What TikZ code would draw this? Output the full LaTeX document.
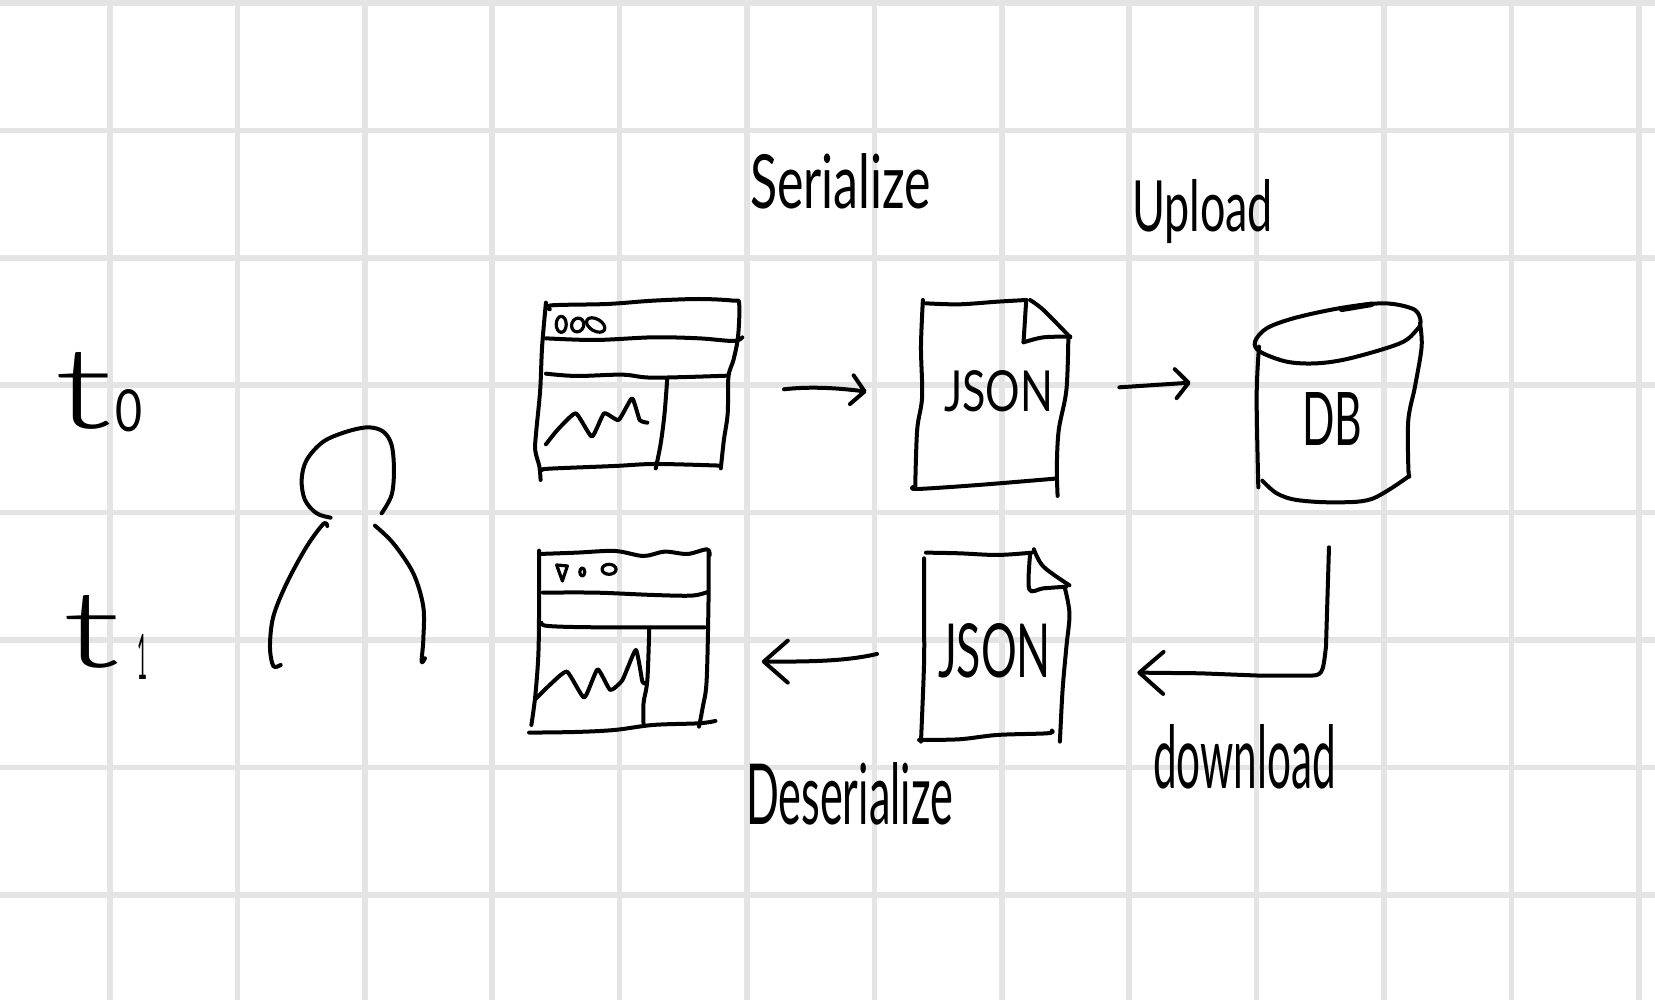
\documentclass[tikz,border=0pt]{standalone}
\usepackage{graphicx}
\usepackage{fontspec}
\setmainfont{Lato}
\newfontfamily\handlight{Lato Light}
\usetikzlibrary{arrows.meta}
\definecolor{gridc}{HTML}{E4E4E4}
\newcommand{\fitl}[3]{\resizebox{#1pt}{#2pt}{\fontsize{40pt}{40pt}\selectfont #3}}
\newcommand{\sk}[1]{\draw[ink] plot[smooth,tension=0.55] coordinates {#1};}
\newcommand{\skz}[1]{\draw[ink] plot[smooth,tension=0.3] coordinates {#1};}
\tikzset{
  ink/.style={line width=4pt,line cap=round,line join=round,draw=black},
  thinink/.style={line width=3.2pt,line cap=round,line join=round,draw=black},
  hand/.style={inner sep=0pt,outer sep=0pt,anchor=base west,text=black},
  gridline/.style={line width=5.5pt,draw=gridc},
  arrsmall/.style={ink,-{Straight Barb[length=13pt,width=29pt,round]}},
  arrbig/.style={ink,-{Straight Barb[length=24pt,width=42pt,round]}},
  zone/.style={shift={(500,280)},x=0.3827pt,y=-0.3333pt},
  ztwo/.style={shift={(1100,280)},x=0.3333pt,y=-0.3333pt},
  zthree/.style={shift={(40,330)},x=0.3333pt,y=-0.3333pt}
}
\begin{document}
\begin{tikzpicture}[x=1pt,y=-1pt]
\useasboundingbox (0,0) rectangle (1655,1000);
\fill[white] (0,0) rectangle (1655,1000);
\foreach \k in {0,...,12}{\draw[gridline] ({110+127.4*\k},0) -- ({110+127.4*\k},1000);}
\foreach \k in {0,...,7}{\draw[gridline] (0,{3+127.4*\k}) -- (1655,{3+127.4*\k});}

% windows and documents
\begin{scope}[zone]
  % upper window
  \sk{(120,68)(110,200)(105,330)(95,450)(92,510)(103,560)(106,600)}
  \sk{(130,88)(135,76)(280,72)(400,62)(520,57)(610,62)(625,72)(622,170)(610,240)(597,290)(595,400)(585,480)(577,565)}
  \sk{(120,175)(250,180)(400,172)(520,175)(610,183)(633,172)}
  \sk{(120,281)(200,288)(320,284)(400,293)(595,287)}
  \sk{(437,295)(430,400)(420,490)(407,565)}
  \sk{(110,570)(130,566)(300,558)(407,552)(577,557)}
  \skz{(120,493)(150,450)(198,400)(240,470)(272,400)(310,420)(345,355)(365,420)(385,428)}
  \draw[thinink] (160,133) ellipse [x radius=5pt,y radius=8pt];
  \draw[thinink,rotate around={-20:(203,135)}] (203,135) ellipse [x radius=6pt,y radius=7pt];
  \draw[thinink,rotate around={-30:(250,135)}] (250,135) ellipse [x radius=10pt,y radius=6pt];
  % lower window
  \sk{(102,812)(102,1000)(100,1130)(92,1250)(82,1335)}
  \sk{(103,822)(200,818)(300,813)(375,828)(430,815)(490,822)(540,808)(548,825)}
  \sk{(545,812)(545,950)(540,1200)(530,1280)(520,1340)}
  \sk{(112,938)(250,938)(400,945)(500,947)(540,937)}
  \sk{(108,1028)(125,1038)(250,1042)(535,1042)}
  \sk{(390,1045)(385,1200)(375,1270)(375,1330)}
  \sk{(76,1358)(200,1356)(300,1350)(400,1335)(520,1330)(563,1323)}
  \skz{(92,1258)(130,1215)(175,1175)(220,1253)(255,1168)(288,1230)(320,1200)(355,1110)(372,1205)(380,1210)}
  \draw[thinink] (148,855) -- (176,858) -- (163,903) -- cycle;
  \draw[thinink] (215,876) ellipse [x radius=2.5pt,y radius=4pt];
  \draw[thinink] (285,868) ellipse [x radius=7pt,y radius=5pt];
  % upper document
  \sk{(1105,60)(1100,200)(1103,350)(1090,450)(1085,620)}
  \sk{(1082,620)(1090,627)(1250,615)(1450,596)}
  \sk{(1457,648)(1455,560)(1460,450)(1480,330)(1485,175)}
  \sk{(1113,70)(1200,73)(1300,65)(1375,60)}
  \draw[ink] (1375,60) -- (1368,187);
  \sk{(1368,187)(1420,172)(1490,170)}
  \sk{(1385,60)(1420,90)(1490,172)}
  % lower document
  \sk{(1108,835)(1108,1000)(1108,1150)(1100,1385)}
  \sk{(1113,818)(1200,820)(1300,825)(1390,818)}
  \sk{(1395,808)(1420,860)(1488,916)}
  \sk{(1385,825)(1383,928)(1420,925)(1480,920)}
  \sk{(1475,920)(1488,1000)(1480,1100)(1470,1230)(1463,1385)}
  \sk{(1095,1380)(1200,1378)(1300,1365)(1430,1360)(1442,1352)}
  % connector ends
  \coordinate (saveA) at (742,328);
  \coordinate (saveB) at (800,320);
  \coordinate (saveC) at (870,322);
  \coordinate (saveD) at (958,335);
  \coordinate (loadA) at (985,1122);
  \coordinate (loadB) at (900,1145);
  \coordinate (loadC) at (800,1145);
  \coordinate (loadD) at (684,1145);
\end{scope}

% database
\begin{scope}[ztwo]
  \draw[ink] plot[smooth cycle,tension=0.55] coordinates {(465,185)(480,215)(560,245)(650,250)(750,235)(900,190)(950,150)(962,125)(945,90)(880,72)(810,72)(700,88)(580,115)(500,145)};
  \draw[ink,line width=5.5pt] (725,88) -- (815,73);
  \sk{(477,200)(470,350)(475,622)}
  \sk{(960,130)(965,200)(945,320)(925,420)(925,560)(928,590)}
  \sk{(487,602)(530,640)(590,660)(700,667)(815,657)(925,590)}
  \coordinate (upA) at (58,322);
  \coordinate (upB) at (272,308);
  \coordinate (dnA) at (687,802);
  \coordinate (dnB) at (678,1100);
  \coordinate (dnC) at (668,1187);
  \coordinate (dnD) at (620,1187);
  \coordinate (dnE) at (480,1187);
  \coordinate (dnF) at (300,1180);
  \coordinate (dnG) at (112,1178);
\end{scope}

% person
\begin{scope}[zthree]
  \sk{(872,563)(830,550)(795,510)(785,450)(800,390)(850,335)(920,305)(985,292)(1030,305)(1055,345)(1062,420)(1055,495)(1025,550)}
  \sk{(862,588)(850,582)(800,650)(740,760)(700,860)(690,950)(700,1008)(722,1005)}
  \sk{(1005,587)(1060,640)(1120,730)(1150,830)(1150,930)(1145,995)(1155,985)}
\end{scope}

% connectors
\draw[arrsmall] (saveA) .. controls (saveB) and (saveC) .. (saveD);
\draw[arrsmall] (upA) -- (upB);
\draw[arrbig] (loadA) .. controls (loadB) and (loadC) .. (loadD);
\draw[arrbig] (dnA) -- (dnB) .. controls (dnC) and (dnC) .. (dnD) -- (dnE) -- (dnF) -- (dnG);

% labels
\node[hand] (lblTzero) at (54,428) {\fitl{58}{76}{\handlight t}\kern3pt\raisebox{-3pt}{\fitl{27}{42}{0}}};
\node[hand] (lblTone) at (62,667) {\fitl{58}{72}{\handlight t}\kern17pt\raisebox{-12pt}{\fitl{10}{45}{1}}};
\node[hand] (lblSer) at (750,209) {\fitl{181}{55}{Serialize}};
\node[hand] (lblUp) at (1132,232) {\fitl{141}{52}{Upload}};
\node[hand] (lblDes) at (746,824) {\fitl{207}{62}{Deserialize}};
\node[hand] (lblDown) at (1153,788) {\fitl{183}{64}{download}};
\node[hand] (lblJa) at (944,411) {\fitl{109}{41}{JSON}};
\node[hand] (lblJb) at (938,677) {\fitl{113}{54}{JSON}};
\node[hand] (lblDB) at (1302,445) {\fitl{60}{53}{DB}};
\end{tikzpicture}
\end{document}
